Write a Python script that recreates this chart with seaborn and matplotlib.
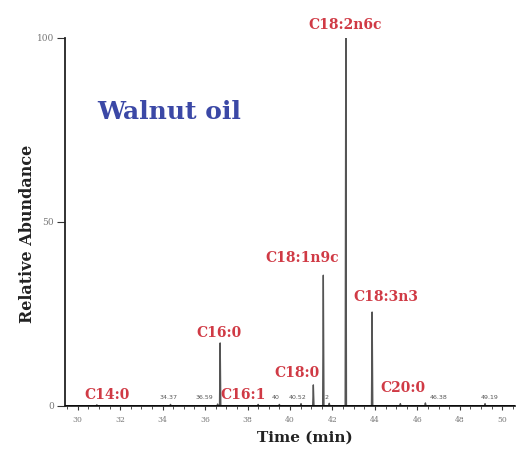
import numpy as np
import pandas as pd
import matplotlib
matplotlib.use("Agg")
import matplotlib.pyplot as plt
import seaborn as sns

# Peak data (retention time in min, relative abundance)
peak_times = [30.9, 34.37, 36.59, 36.71, 38.5, 39.5, 40.52, 41.10, 41.57, 41.85, 42.63, 43.87, 45.2, 46.38, 49.19]
peak_heights = [0.3, 0.4, 0.5, 17.1, 0.4, 0.4, 0.6, 5.7, 35.5, 0.7, 100.0, 25.5, 0.6, 0.8, 0.6]

# Labels for major peaks
label_names = ["C14:0", "C16:0", "C16:1", "C18:0", "C18:1n9c", "C18:2n6c", "C18:3n3", "C20:0"]
label_x = [31.4, 36.67, 37.8, 40.35, 40.56, 42.6, 44.5, 45.3]
label_y = [3.0, 19.8, 3.0, 9.0, 40.2, 103.5, 29.6, 4.9]

# Small retention-time annotations
rt_names = ["34.37", "36.59", "40", "40.52", "2", "46.38", "49.19"]
rt_x = [34.3, 35.95, 39.3, 40.35, 41.7, 47.0, 49.4]
rt_y = [2.2, 2.2, 2.2, 2.2, 2.2, 2.4, 2.4]

x_ticks = [30, 32, 34, 36, 38, 40, 42, 44, 46, 48, 50]
y_ticks = [0, 50, 100]

# Build trace from peaks (spike shapes)
w = 0.03
t_pts, h_pts = [29.4], [0.0]
for t, h in zip(peak_times, peak_heights):
    t_pts += [t - w, t, t + w]
    h_pts += [0.0, h, 0.0]
t_pts.append(50.6)
h_pts.append(0.0)
df = pd.DataFrame({"Time": t_pts, "Abundance": h_pts})

sns.set_theme(style="white")
plt.rcParams["font.family"] = ["DejaVu Serif"]

fig = plt.figure(figsize=(5.16, 4.5), dpi=100)
ax = fig.add_axes([0.126, 0.098, 0.872, 0.818])

sns.lineplot(data=df, x="Time", y="Abundance", ax=ax, color="#555555", linewidth=1.0, sort=False)
ax.axhline(0, color="black", linewidth=1.8, zorder=3)

ax.set_xlim(29.4, 50.6)
ax.set_ylim(0, 100)
ax.set_xticks(x_ticks)
ax.set_xticks(np.arange(29.5, 50.6, 0.5), minor=True)
ax.set_yticks(y_ticks)
ax.tick_params(axis="x", which="major", labelsize=5.5, colors="#333333", labelcolor="#777777",
               length=3, width=0.8, direction="out", bottom=True, pad=4)
ax.tick_params(axis="y", which="major", labelsize=6.5, colors="#333333", labelcolor="#777777",
               length=6, width=0.8, direction="out", left=True, pad=2)
ax.tick_params(axis="x", which="minor", length=2, width=0.6, bottom=True, color="#333333")
for s in ["top", "right"]:
    ax.spines[s].set_visible(False)
ax.spines["left"].set_color("#222222")
ax.spines["left"].set_linewidth(1.3)
ax.spines["bottom"].set_color("#222222")

ax.set_xlabel("Time (min)", fontsize=11, fontweight="bold", color="#222222", va="center")
ax.xaxis.set_label_coords((305 - 65) / 450, -(438 - 406) / 368)
ax.set_ylabel("Relative Abundance", fontsize=11.5, fontweight="bold", color="#222222", va="center")
ax.yaxis.set_label_coords(-(65 - 27) / 450, (406 - 234) / 368)

red = "#d03a45"
for name, x, y in zip(label_names, label_x, label_y):
    ax.text(x, y, name, color=red, fontsize=10, fontweight="bold", ha="center", va="center", clip_on=False)
for name, x, y in zip(rt_names, rt_x, rt_y):
    ax.text(x, y, name, color="#555555", fontsize=4.5, family="DejaVu Sans", ha="center", va="center")

ax.text(30.94, 79.9, "Walnut oil", color="#3b48a6", fontsize=18, fontweight="bold", ha="left", va="center")

fig.savefig("out.png", dpi=100)
